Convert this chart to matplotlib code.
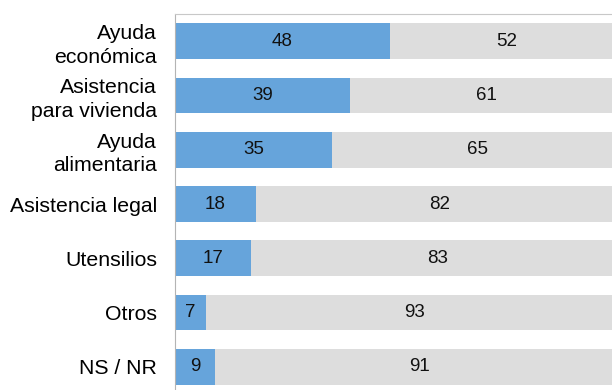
import numpy as np
import matplotlib.pyplot as plt

plt.rcParams['font.family'] = ['Liberation Sans', 'DejaVu Sans']

categorias = ['Ayuda\neconómica', 'Asistencia\npara vivienda', 'Ayuda\nalimentaria',
              'Asistencia legal', 'Utensilios', 'Otros', 'NS / NR']
si = [48, 39, 35, 18, 17, 7, 9]
no = [52, 61, 65, 82, 83, 93, 91]

azul = '#66a4db'
gris = '#dddddd'

fig = plt.figure(figsize=(6.12, 3.9), dpi=100)
# the plot area runs a little past the right and bottom edges
ax = fig.add_axes([175 / 612, -4 / 390, 448 / 612, 380 / 390])

y = np.arange(len(categorias))
alto = 0.66
ax.barh(y, si, height=alto, color=azul)
ax.barh(y, no, left=si, height=alto, color=gris)

for i in range(len(categorias)):
    ax.text(si[i] / 2, y[i], str(si[i]), ha='center', va='center', fontsize=13.5, color='#111111')
    ax.text(si[i] + no[i] / 2, y[i], str(no[i]), ha='center', va='center', fontsize=13.5, color='#111111')

ax.set_xlim(0, 100)
ax.set_ylim(len(categorias) - 0.5, -0.5)
ax.set_yticks(y)
ax.set_yticklabels(categorias, fontsize=15.3, linespacing=1.3)
ax.tick_params(axis='y', length=0, pad=13)
ax.set_xticks([])

for s in ax.spines.values():
    s.set_color('#c8c8c8')
ax.spines['left'].set_color('#b4b4b4')

fig.savefig('out.png', dpi=100)
